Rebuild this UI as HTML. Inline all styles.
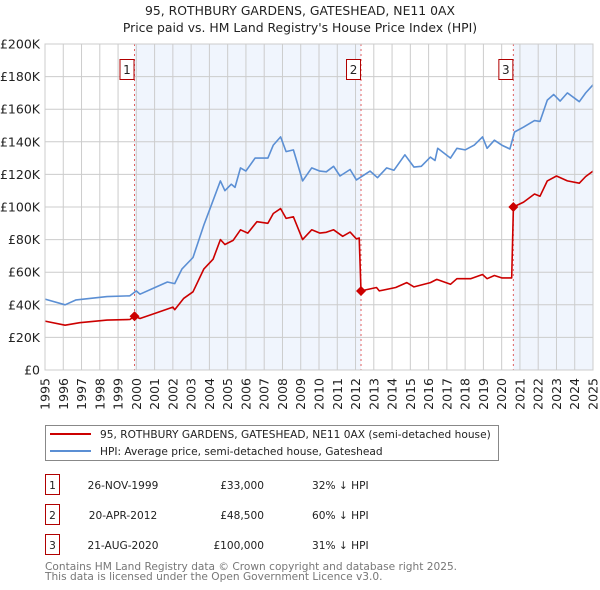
<!DOCTYPE html>
<html><head><meta charset="utf-8"><style>
body{margin:0;background:#fff;}
svg{display:block;font-family:"DejaVu Sans","Liberation Sans",sans-serif;}
</style></head><body>
<svg id="c" width="600" height="590" xmlns="http://www.w3.org/2000/svg">
<text x="300" y="15" text-anchor="middle" font-size="12.4" fill="#222">95, ROTHBURY GARDENS, GATESHEAD, NE11 0AX</text>
<text x="300" y="32" text-anchor="middle" font-size="12.4" fill="#222">Price paid vs. HM Land Registry's House Price Index (HPI)</text>
<g id="plot"></g>
<rect x="45.5" y="425.5" width="453" height="35" fill="#fff" stroke="#888"/>
<line x1="50" y1="434" x2="91" y2="434" stroke="#cc0000" stroke-width="2"/>
<text x="100" y="438" font-size="10.6" fill="#222">95, ROTHBURY GARDENS, GATESHEAD, NE11 0AX (semi-detached house)</text>
<line x1="50" y1="451" x2="91" y2="451" stroke="#5b8fd4" stroke-width="2"/>
<text x="100" y="455" font-size="10.6" fill="#222">HPI: Average price, semi-detached house, Gateshead</text>
<g id="tbl" font-size="10.6" fill="#222"></g>
<text x="45" y="570" font-size="10.6" fill="#777">Contains HM Land Registry data © Crown copyright and database right 2025.</text>
<text x="45" y="580" font-size="10.6" fill="#777">This data is licensed under the Open Government Licence v3.0.</text>
</svg>
<script>
const yTicks=[0,20000,40000,60000,80000,100000,120000,140000,160000,180000,200000];
const yTickLabels=["£0","£20K","£40K","£60K","£80K","£100K","£120K","£140K","£160K","£180K","£200K"];
const xYears=[1995,1996,1997,1998,1999,2000,2001,2002,2003,2004,2005,2006,2007,2008,2009,2010,2011,2012,2013,2014,2015,2016,2017,2018,2019,2020,2021,2022,2023,2024,2025];
const hpiDates=[1995.0,1996.1,1996.7,1998.4,1999.65,2000.0,2000.2,2001.1,2001.7,2002.1,2002.5,2003.1,2003.7,2004.0,2004.6,2004.85,2005.2,2005.4,2005.7,2006.0,2006.5,2007.2,2007.5,2007.9,2008.2,2008.6,2009.1,2009.6,2010.05,2010.4,2010.8,2011.15,2011.7,2012.05,2012.8,2013.2,2013.7,2014.1,2014.7,2015.2,2015.6,2016.1,2016.35,2016.5,2017.2,2017.55,2018.0,2018.5,2018.95,2019.2,2019.6,2020.0,2020.45,2020.7,2021.2,2021.8,2022.1,2022.5,2022.85,2023.2,2023.6,2024.25,2024.6,2025.0];
const hpiValues=[43500,40000,43000,45000,45500,48500,46500,51000,54000,53000,62000,69000,89000,98000,116000,110000,114000,112000,124000,122000,130000,130000,138000,143000,134000,135000,116000,124000,122000,121600,125000,119000,123000,116600,122000,118000,124000,122500,132000,124500,125000,130600,128500,136000,130000,136000,135000,138000,143000,136000,141000,138000,135600,146000,149000,153000,152500,165600,169000,165000,170000,164600,170000,175000];
const priceDates=[1995.0,1996.1,1996.9,1998.4,1999.65,1999.9,2000.2,2001.1,2002.0,2002.1,2002.6,2003.1,2003.7,2004.2,2004.6,2004.85,2005.3,2005.7,2006.1,2006.6,2007.2,2007.5,2007.9,2008.2,2008.6,2009.1,2009.6,2010.05,2010.4,2010.8,2011.3,2011.7,2012.05,2012.2,2012.3,2013.15,2013.3,2014.2,2014.8,2015.2,2016.1,2016.45,2017.2,2017.55,2018.3,2018.95,2019.2,2019.6,2020.0,2020.55,2020.64,2021.2,2021.8,2022.1,2022.5,2023.0,2023.6,2024.25,2024.6,2025.0];
const priceValues=[30000,27500,29000,30600,31000,33000,31600,35000,38600,37000,44000,48000,62000,68000,80000,77000,79500,86000,84000,91000,90000,96000,99000,93000,94000,80000,86000,84000,84500,86000,82000,84600,80400,81000,48500,50600,48500,50600,53600,51000,53600,55600,52600,56000,56000,58600,56000,58000,56500,56500,100000,103000,108000,106600,116000,119000,116000,114600,118700,122000];
const saleLabels=["1","2","3"];
const saleDates=[1999.9,2012.3,2020.64];
const salePrices=[33000,48500,100000];
const saleDateText=["26-NOV-1999","20-APR-2012","21-AUG-2020"];
const salePriceText=["£33,000","£48,500","£100,000"];
const saleHpiText=["32% ↓ HPI","60% ↓ HPI","31% ↓ HPI"];

const NS="http://www.w3.org/2000/svg";
const L=45,R=593,T=44,B=370;
const xs=t=>L+(t-1995)/30*(R-L);
const ys=v=>B-v/200000*(B-T);
const g=document.getElementById('plot');
function mk(tag,attrs,parent){const e=document.createElementNS(NS,tag);for(const k in attrs)e.setAttribute(k,attrs[k]);(parent||g).appendChild(e);return e;}
let s1=mk('rect',{x:xs(saleDates[0]),y:T,width:xs(saleDates[1])-xs(saleDates[0]),height:B-T,fill:'#f0f5fd'});


let s3=mk('rect',{x:xs(saleDates[2]),y:T,width:R-xs(saleDates[2]),height:B-T,fill:'#f0f5fd'});


xYears.forEach(yr=>{
 const l=mk('line',{x1:xs(yr),x2:xs(yr),y1:T,y2:B,stroke:'#cccccc','stroke-width':1});
 
 
 const tx=mk('text',{x:0,y:0,transform:`translate(${xs(yr)+4.5},378) rotate(-90)`,'text-anchor':'end','font-size':12.5,fill:'#222'});
 tx.textContent=yr;
 
 
});
yTicks.forEach((v,i)=>{
 const l=mk('line',{x1:L,x2:R,y1:ys(v),y2:ys(v),stroke:'#cccccc','stroke-width':1});
 
 
 const tx=mk('text',{x:40,y:ys(v)+4.5,'text-anchor':'end','font-size':12.5,fill:'#222'});
 tx.textContent=yTickLabels[i];
 
 
});
saleDates.forEach((d,i)=>{
 const l=mk('line',{x1:xs(d),x2:xs(d),y1:T,y2:B,stroke:'#e06060','stroke-width':1,'stroke-dasharray':'2,3'});
 
 
});
function path(d,v,col,name){
 const p=mk('path',{d:d.map((t,i)=>(i?'L':'M')+xs(t).toFixed(1)+','+ys(v[i]).toFixed(1)).join(''),fill:'none',stroke:col,'stroke-width':1.6,'stroke-linejoin':'round'});
 
 
}
path(hpiDates,hpiValues,'#5b8fd4','hpi-line');
path(priceDates,priceValues,'#cc0000','price-paid-line');
saleDates.forEach((d,i)=>{
 const x=xs(d),y=ys(salePrices[i]);
 const p=mk('path',{d:`M${x},${y-5}L${x+5},${y}L${x},${y+5}L${x-5},${y}Z`,fill:'#cc0000'});
 
 
 const bx=mk('rect',{x:x-14.5,y:59.5,width:14,height:20,fill:'#fff',stroke:'#b00000'});
 
 
 const t=mk('text',{x:x-7.5,y:74,'text-anchor':'middle','font-size':12,fill:'#222'});
 t.textContent=saleLabels[i];
 
 
});
const ax=mk('rect',{x:L,y:T,width:R-L,height:B-T,fill:'none',stroke:'#cccccc'});


const tb=document.getElementById('tbl');
const rowsY=[485,515,545];
saleLabels.forEach((lab,i)=>{
 const y=rowsY[i];
 const r=mk('rect',{x:45.5,y:y-10.5,width:14,height:20,fill:'#fff',stroke:'#b00000'},tb);
 
 
 const cells=[[52.5,'middle',lab],[123,'middle',saleDateText[i]],[264,'end',salePriceText[i]],[312,'start',saleHpiText[i]]];
 cells.forEach((c,j)=>{
  const t=mk('text',{x:c[0],y:y+4,'text-anchor':c[1]},tb);
  t.textContent=c[2];
  
  
 });
});
</script>
</body></html>
